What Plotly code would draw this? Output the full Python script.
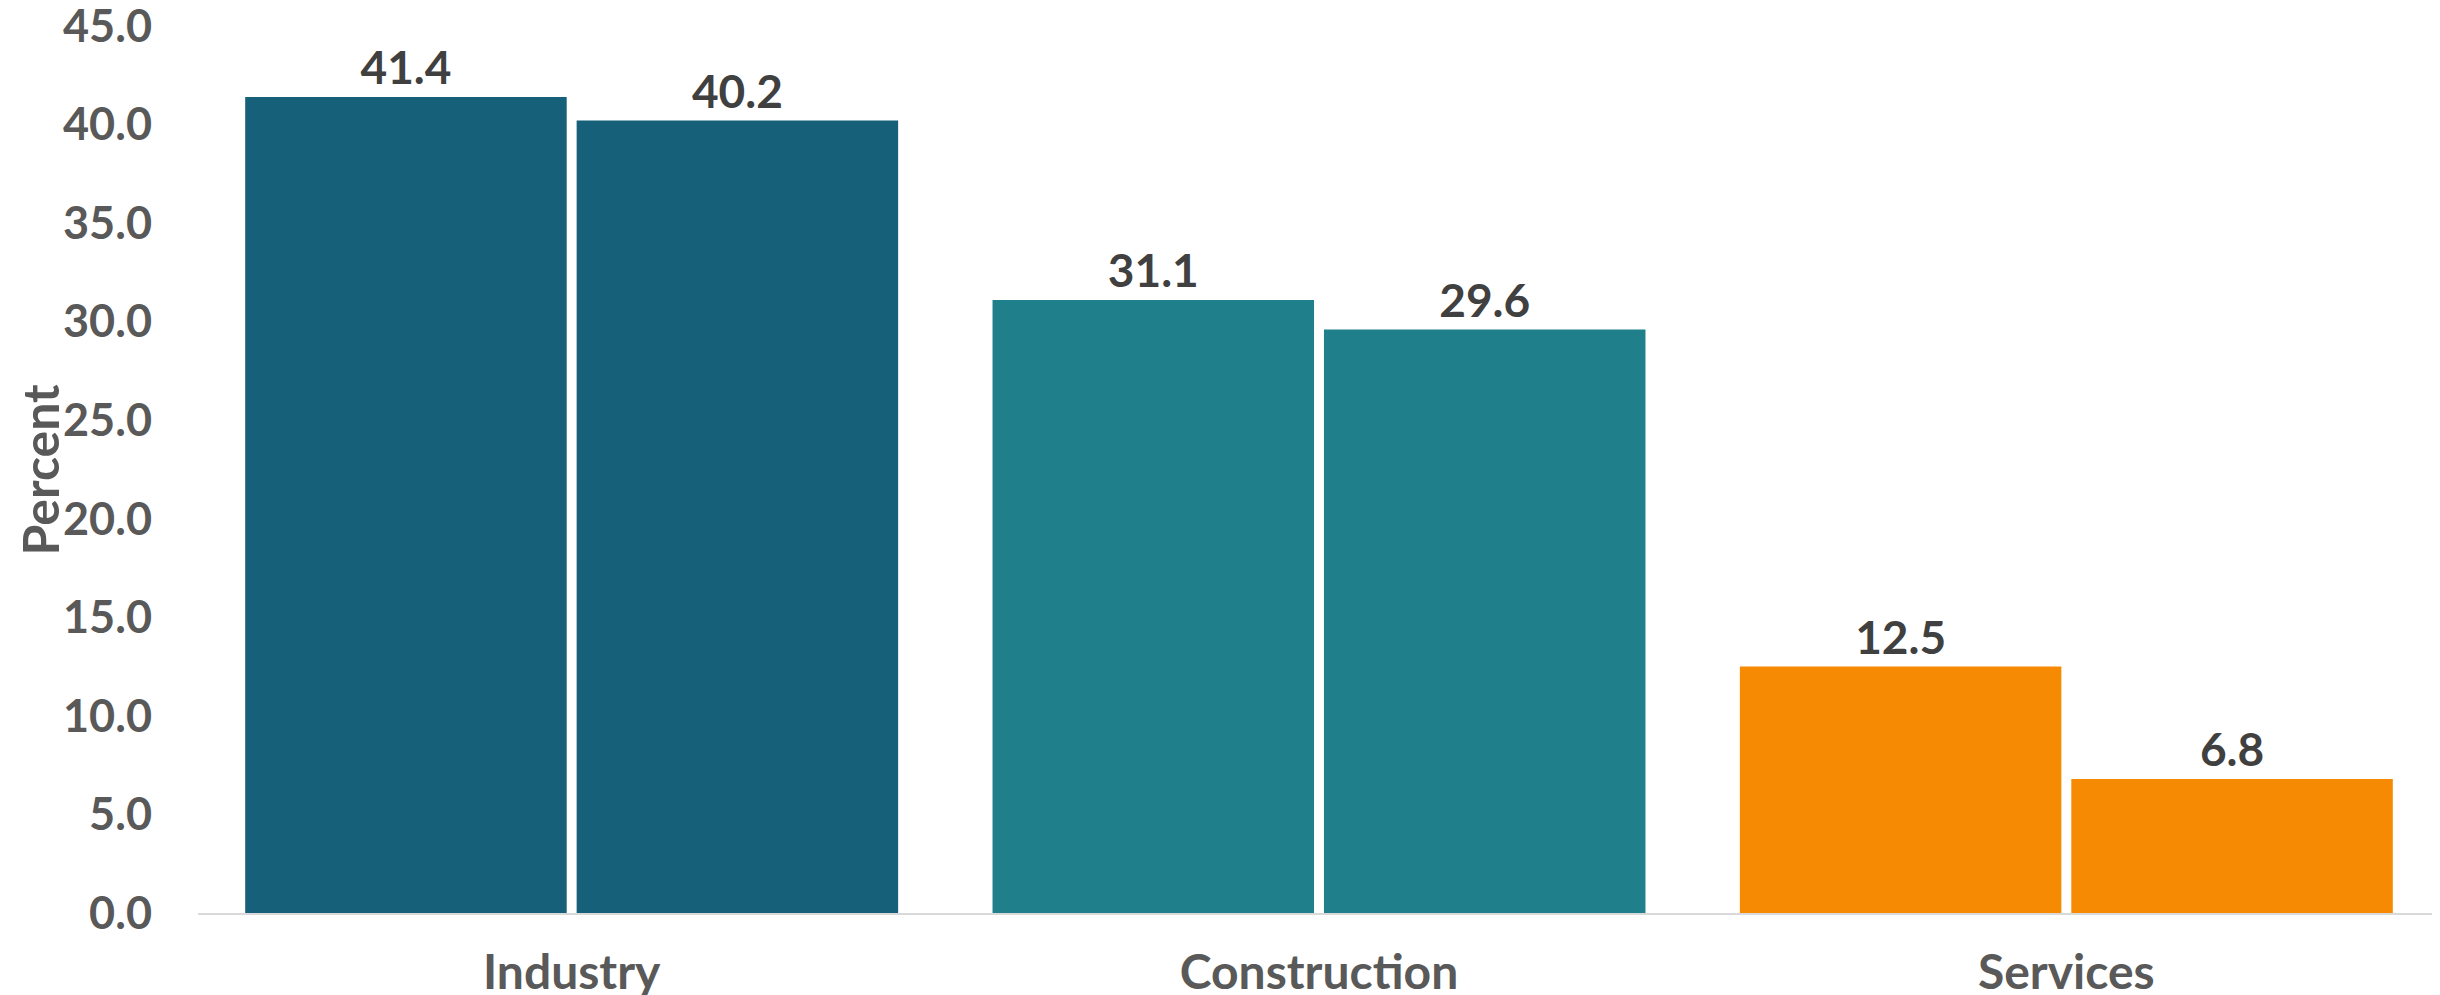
import plotly.graph_objects as go

categories = ["Industry", "Construction", "Services"]
series_1 = [41.4, 31.1, 12.5]
series_2 = [40.2, 29.6, 6.8]
series_names = ["Series 1", "Series 2"]
category_colors = ["#17607A", "#1F7F8B", "#F68B03"]
y_ticks = [0, 5, 10, 15, 20, 25, 30, 35, 40, 45]
y_title = "Percent"

FONT = "Lato"
L, R, T, B = 190, 8, 18, 90
W, H = 2440, 995

fig = go.Figure()
for name, vals in zip(series_names, [series_1, series_2]):
    fig.add_trace(go.Bar(
        x=categories, y=vals, name=name,
        marker=dict(color=category_colors, line=dict(width=0)),
        text=[f"{v:.1f}" for v in vals],
        textposition="outside",
        cliponaxis=False,
        textfont=dict(family=FONT, size=46, color="#404040", weight="bold"),
    ))

fig.update_layout(
    width=W, height=H,
    margin=dict(l=L, r=R, t=T, b=B),
    barmode="group", bargap=0.113, bargroupgap=0.03,
    plot_bgcolor="white", paper_bgcolor="white",
    showlegend=False,
    font=dict(family=FONT, color="#595959", size=46, weight="bold"),
)
fig.add_annotation(
    text=y_title, textangle=-90, showarrow=False,
    xref="paper", yref="paper",
    x=(31 - L) / (W - L - R), y=0.5,
    xanchor="center", yanchor="middle",
    font=dict(family=FONT, size=50, color="#595959", weight="bold"),
)
fig.update_yaxes(
    range=[0, 45], tickvals=y_ticks, ticktext=[f"{v:.1f}" for v in y_ticks],
    showgrid=False, zeroline=False, showline=False,
    ticks="", ticklabelstandoff=45, automargin=False,
    ticklabeloverflow="allow",
    tickfont=dict(family=FONT, size=45, color="#595959", weight="bold"),
)
fig.update_xaxes(
    showline=True, linecolor="#D9D9D9", linewidth=2,
    showgrid=False, ticks="", automargin=False,
    ticklabelstandoff=16,
    tickfont=dict(family=FONT, size=48, color="#595959", weight="bold"),
)

fig.write_html("out.html")
